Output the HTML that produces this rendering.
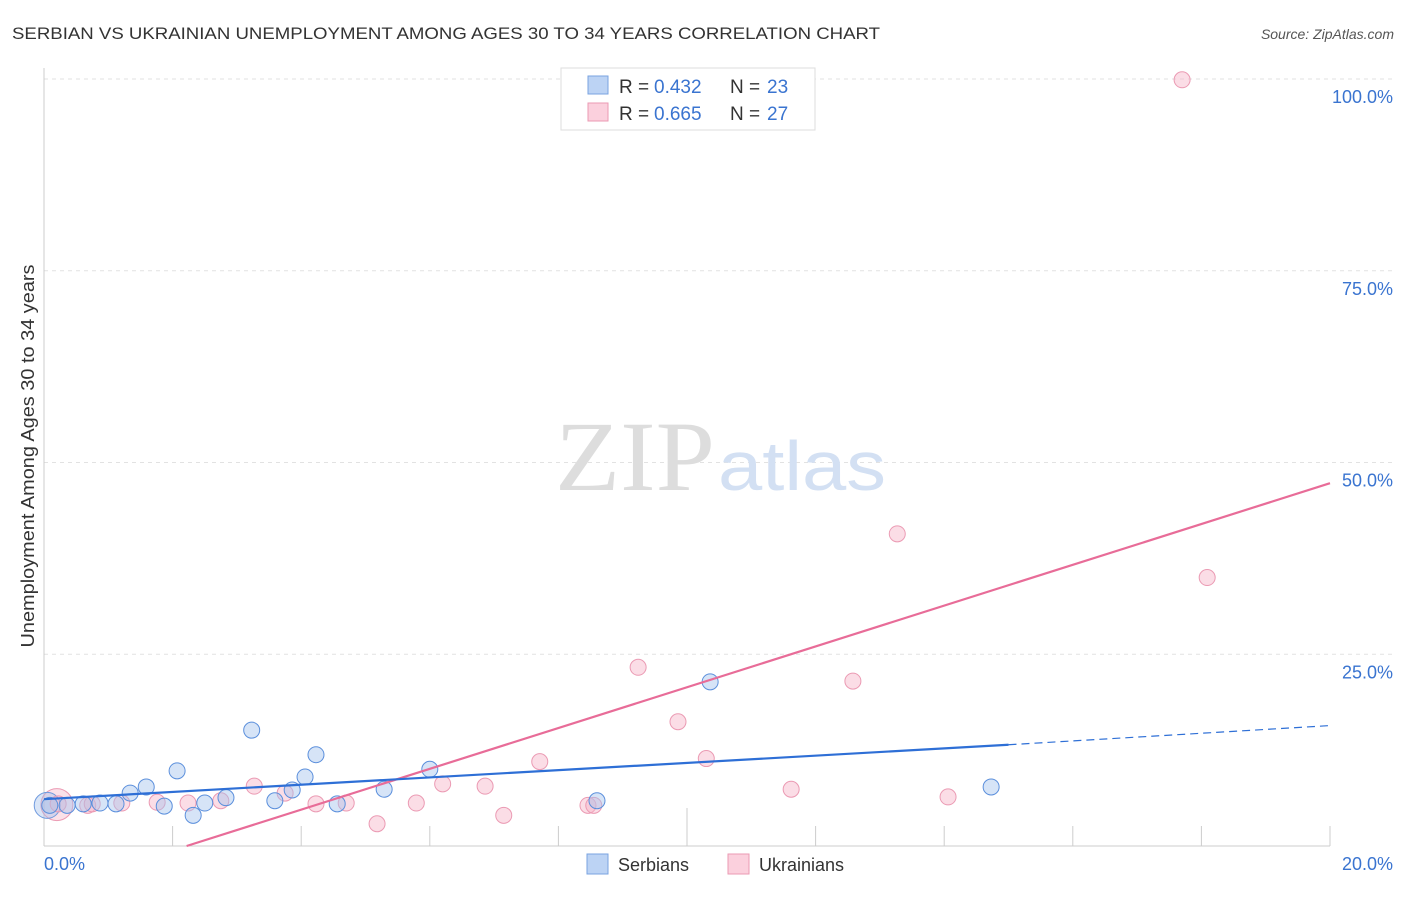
<!DOCTYPE html>
<html><head><meta charset="utf-8"><style>
body{margin:0;background:#fff;font-family:"Liberation Sans",sans-serif}
svg text{font-family:"Liberation Sans",sans-serif}
</style></head><body>
<svg id="c" width="1406" height="892">
<text x="12" y="39" font-size="17" fill="#333" textLength="868" lengthAdjust="spacingAndGlyphs">SERBIAN VS UKRAINIAN UNEMPLOYMENT AMONG AGES 30 TO 34 YEARS CORRELATION CHART</text>
<text x="1394" y="39" font-size="14" fill="#555" font-style="italic" text-anchor="end">Source: ZipAtlas.com</text>
<text x="34" y="456" font-size="18" fill="#333" text-anchor="middle" textLength="383" lengthAdjust="spacingAndGlyphs" transform="rotate(-90 34 456)">Unemployment Among Ages 30 to 34 years</text>
<g id="grid"></g>
<text x="635" y="490" font-size="100" fill="#ddd" text-anchor="middle" textLength="160" lengthAdjust="spacingAndGlyphs" style="font-family:'Liberation Serif',serif">ZIP</text>
<text x="802" y="490" font-size="70" fill="#d3e0f3" text-anchor="middle" textLength="168" lengthAdjust="spacingAndGlyphs">atlas</text>
<g id="marks"></g>
<g>
<rect x="561" y="68" width="254" height="62" fill="#fff" stroke="#ddd"/>
<rect x="588" y="76" width="20" height="18" fill="#bcd3f4" stroke="#7aa3e0"/>
<rect x="588" y="103" width="20" height="18" fill="#fbd0dd" stroke="#eb9ab3"/>
<text x="619" y="93" font-size="19" fill="#333">R = </text>
<text x="654" y="93" font-size="19" fill="#3a74d0">0.432</text>
<text x="730" y="93" font-size="19" fill="#333">N = </text>
<text x="767" y="93" font-size="19" fill="#3a74d0">23</text>
<text x="619" y="120" font-size="19" fill="#333">R = </text>
<text x="654" y="120" font-size="19" fill="#3a74d0">0.665</text>
<text x="730" y="120" font-size="19" fill="#333">N = </text>
<text x="767" y="120" font-size="19" fill="#3a74d0">27</text>
</g>
<g>
<rect x="587" y="854" width="21" height="20" fill="#bcd3f4" stroke="#7aa3e0"/>
<text x="618" y="871" font-size="18" fill="#333">Serbians</text>
<rect x="728" y="854" width="21" height="20" fill="#fbd0dd" stroke="#eb9ab3"/>
<text x="759" y="871" font-size="18" fill="#333">Ukrainians</text>
</g>
</svg>
<script>
const serX=[0.09,0.36,0.61,0.87,1.12,1.34,1.59,1.87,2.07,2.32,2.50,2.83,3.23,3.59,3.86,4.06,4.23,4.56,5.29,6.0,8.6,10.36,14.73];
const serY=[5.3,5.3,5.5,5.6,5.5,6.9,7.7,5.2,9.8,4.0,5.6,6.3,15.1,5.9,7.3,9.0,11.9,5.5,7.4,10.0,5.9,21.4,7.7];
const ukrX=[0.22,0.68,0.75,1.21,1.76,2.24,2.75,3.27,3.75,4.23,4.70,5.18,5.79,6.2,6.86,7.15,7.71,8.46,8.55,9.24,9.86,10.3,11.62,12.58,13.27,14.06,17.70,18.09];
const ukrY=[5.5,5.3,5.5,5.6,5.7,5.6,5.9,7.8,6.9,5.5,5.6,2.9,5.6,8.1,7.8,4.0,11.0,5.3,5.3,23.3,16.2,11.4,7.4,21.5,40.7,6.4,99.9,35.0];
const yTicks=[25,50,75,100];
const yTickLabels=["25.0%","50.0%","75.0%","100.0%"];
const xTicks=[2,4,6,8,10,12,14,16,18,20];
const serTrend=[6.1,13.2,15.7]; // at x=0, 15, 20
const ukrTrend=[-5.9,47.3]; // at x=0, 20
const NS="http://www.w3.org/2000/svg";
const X=v=>44+v/20*1286, Y=v=>846-v*7.67;
function mk(t,a,p){const e=document.createElementNS(NS,t);for(const k in a)e.setAttribute(k,a[k]);p.appendChild(e);return e;}
const g=document.getElementById('grid'), m=document.getElementById('marks');
yTicks.forEach((t,i)=>{
 const l=mk('line',{x1:44,x2:1392,y1:Y(t),y2:Y(t),stroke:'#e2e2e2','stroke-dasharray':'4,4'},g);
 
 
 const tx=mk('text',{x:1393,y:Y(t)+24,'font-size':18,fill:'#3a74d0','text-anchor':'end'},g);
 tx.textContent=yTickLabels[i];
 
 
});
const ax=mk('line',{x1:44,x2:44,y1:68,y2:846,stroke:'#ccc'},g);


const bx=mk('line',{x1:44,x2:1330,y1:846,y2:846,stroke:'#ccc'},g);


xTicks.forEach(t=>{
 const l=mk('line',{x1:X(t),x2:X(t),y1:t==10?808:826,y2:846,stroke:'#ccc'},g);
 
 
});
const x0=mk('text',{x:44,y:870,'font-size':18,fill:'#3a74d0'},g);x0.textContent='0.0%';


const x1=mk('text',{x:1393,y:870,'font-size':18,fill:'#3a74d0','text-anchor':'end'},g);x1.textContent='20.0%';


const bg1=mk('circle',{cx:X(0.2),cy:Y(5.4),r:16,fill:'rgba(246,180,200,0.4)',stroke:'#eb9ab3'},m);


const bg2=mk('circle',{cx:X(0.05),cy:Y(5.3),r:13,fill:'rgba(160,190,235,0.4)',stroke:'#6f9ade'},m);


ukrX.forEach((v,i)=>{
 const c=mk('circle',{cx:X(v),cy:Y(ukrY[i]),r:8,fill:'rgba(246,180,200,0.45)',stroke:'#eb9ab3'},m);
 
 
});
serX.forEach((v,i)=>{
 const c=mk('circle',{cx:X(v),cy:Y(serY[i]),r:8,fill:'rgba(165,195,238,0.45)',stroke:'#5b8fdc'},m);
 
 
});
const ux0=-ukrTrend[0]/((ukrTrend[1]-ukrTrend[0])/20);
const ul=mk('line',{x1:X(ux0),y1:Y(0),x2:X(20),y2:Y(ukrTrend[1]),stroke:'#e86c98','stroke-width':2.2},m);


const sl=mk('line',{x1:X(0),y1:Y(serTrend[0]),x2:X(15),y2:Y(serTrend[1]),stroke:'#2e6fd6','stroke-width':2.2},m);


const sd=mk('line',{x1:X(15),y1:Y(serTrend[1]),x2:X(20),y2:Y(serTrend[2]),stroke:'#2e6fd6','stroke-width':1.2,'stroke-dasharray':'8,5'},m);


</script>
</body></html>
